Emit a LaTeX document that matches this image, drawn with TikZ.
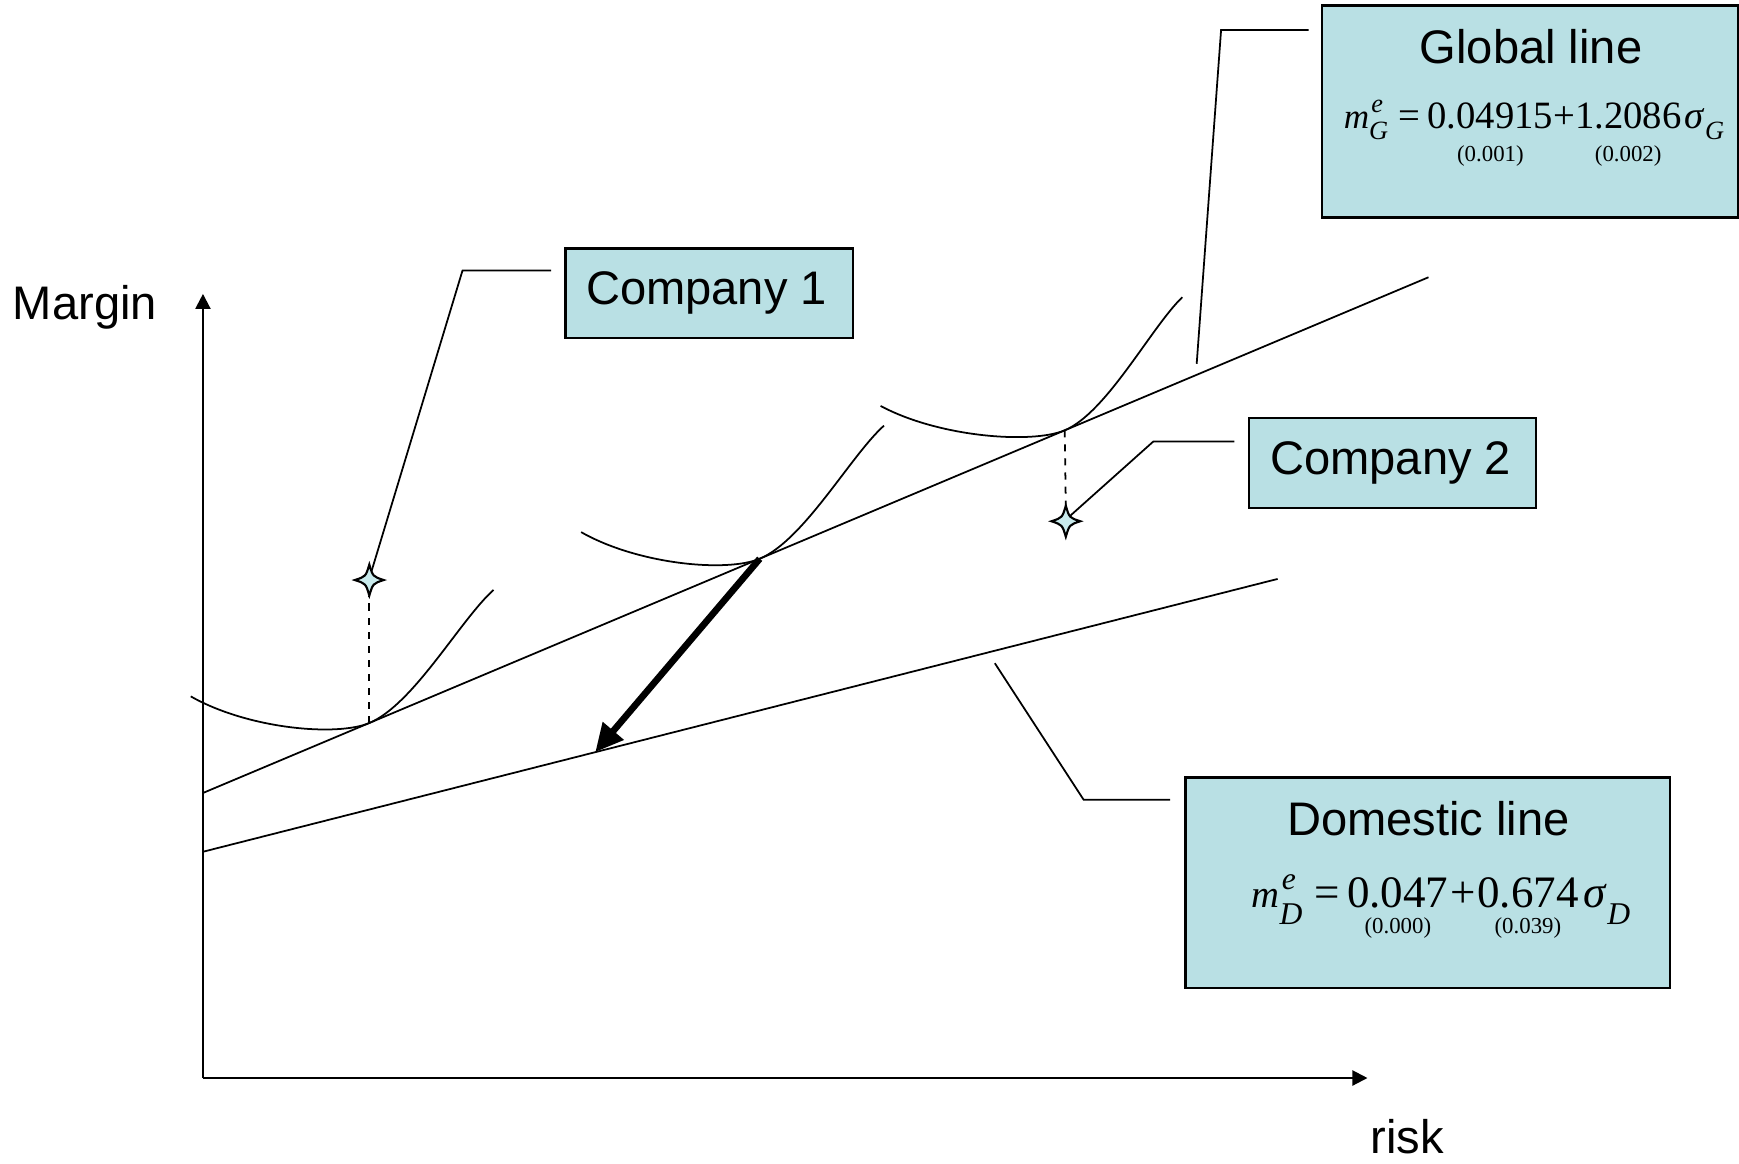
\documentclass[tikz,border=0pt]{standalone}
\usepackage{fontspec}
\setmainfont{Liberation Serif}
\setsansfont{Liberation Sans}
\usetikzlibrary{arrows.meta,calc}
\definecolor{boxfill}{RGB}{185,224,228}
\definecolor{starfill}{RGB}{200,234,236}
% #1 subscript letter, #2 main m size, #3 script size, #4 sup raise, #5 sub drop
\newcommand\mexp[5]{{\fontsize{#2}{#2}\selectfont\textit{m}}\rlap{\kern0.6pt\raisebox{#4}{\fontsize{#3}{#3}\selectfont\textit{e}}}\raisebox{-#5}{\fontsize{#3}{#3}\selectfont\textit{#1}}}
% #1 main number, #2 label under it, #3 baseline distance
\newcommand\ulab[3]{\vtop{\baselineskip=#3\lineskiplimit=-100pt\lineskip=0pt\halign{\hfil##\hfil\cr#1\cr{\fontsize{6.5}{7}\selectfont#2}\cr}}}
\newcommand\sigsub[3]{\textit{σ}\raisebox{-#3}{\fontsize{#2}{#2}\selectfont\textit{#1}}}
\begin{document}
\begin{tikzpicture}[x=0.1109mm,y=-0.1109mm,
  box/.style={draw=black, line width=0.7pt, fill=boxfill, inner sep=0pt},
  lbl/.style={font=\sffamily\fontsize{13.4}{16}\selectfont, inner sep=0pt},
  eq/.style={inner sep=0pt},
  curve/.style={line width=0.5pt},
  callout/.style={line width=0.5pt},
  proj/.style={line width=0.5pt, dash pattern=on 2pt off 2pt},
  axis/.style={line width=0.6pt, -{Triangle[length=1.5mm,width=1.5mm]}},
  shiftarrow/.style={line width=1.9pt, -{Triangle[length=2.8mm,width=2.6mm]}},
  fourstar/.pic={\draw[line width=0.6pt, fill=starfill] (0,-14) .. controls (3.2,-3.2) .. (13,0) .. controls (3.2,3.2) .. (0,14) .. controls (-3.2,3.2) .. (-13,0) .. controls (-3.2,-3.2) .. cycle;},
  icurve/.pic={\draw[curve] (-161,-24) .. controls (-110,5) and (-30,12.6) .. (0,0) .. controls (40,-16.8) and (82,-93) .. (112,-120);},
  icurvewide/.pic={\draw[curve] (-166,-22) .. controls (-114,6) and (-30,12.6) .. (0,0) .. controls (38,-16) and (78,-93) .. (106,-120);}
]
\useasboundingbox (0,0) rectangle (1568,1049);
% axes
\coordinate (O) at (183,972);
\coordinate (ytop) at (183,265);
\coordinate (xend) at (1233,972);
\draw[axis] (O) -- (ytop);
\draw[axis] (O) -- (xend);
\node[lbl, anchor=base west] (margin) at (11,288.5) {Margin};
\node[lbl, anchor=base west] (risk) at (1235,1040) {risk};
% lines
\coordinate (g0) at (183,715);
\coordinate (g1) at (1288,250);
\coordinate (d0) at (183,768);
\coordinate (d1) at (1152,522);
\draw[line width=0.5pt] (g0) -- (g1);
\draw[line width=0.5pt] (d0) -- (d1);
% tangency points
\coordinate (t1) at (333,651.9);
\coordinate (t2) at (685,503.8);
\coordinate (t3) at (960,388);
\pic at (t1) {icurve};
\pic at (t2) {icurve};
\pic at (t3) {icurvewide};
% stars
\coordinate (s1) at (333,523);
\coordinate (s2) at (961,470);
\draw[proj] (t1) -- ($(s1)+(0,14)$);
\draw[proj] (t3) -- ($(s2)+(0,-14)$);
\pic at (s1) {fourstar};
\pic at (s2) {fourstar};
% shift arrow
\coordinate (a1) at ($(d0)!0.365!(d1)$);
\draw[shiftarrow] (t2) -- (a1);
% boxes
\node[box, minimum width=28.72mm, minimum height=8.98mm] (comp1) at (639.5,264.5) {};
\node[lbl, anchor=base] (comp1t) at (637,275) {Company 1};
\node[box, minimum width=28.72mm, minimum height=8.98mm] (comp2) at (1255.5,417.5) {};
\node[lbl, anchor=base] (comp2t) at (1254,428) {Company 2};
\node[box, minimum width=41.59mm, minimum height=21.18mm] (glob) at (1379.5,100.5) {};
\node[lbl, anchor=base] (globt) at (1380.5,57) {Global line};
\node[eq, anchor=base west, font=\fontsize{11}{13}\selectfont] (globeq) at (1211,116)
  {\mexp{G}{10}{7.5}{4.6pt}{3.2pt}\kern3pt=\kern2pt\ulab{0.04915}{(0.001)}{9.4pt}+\ulab{1.2086}{(0.002)}{9.4pt}\kern1pt\sigsub{G}{7.5}{3.2pt}};
\node[box, minimum width=48.46mm, minimum height=21.07mm] (dom) at (1287.5,796) {};
\node[lbl, anchor=base] (domt) at (1288,753) {Domestic line};
\node[eq, anchor=base west, font=\fontsize{12.8}{14}\selectfont] (domeq) at (1128,818)
  {\mexp{D}{11}{9}{5pt}{5pt}\kern3.5pt=\kern2pt\ulab{0.047}{(0.000)}{7.4pt}\kern0.5pt+\kern0.5pt\ulab{0.674}{(0.039)}{7.4pt}\kern1.5pt\sigsub{D}{9}{5pt}};
% callouts
\coordinate (c1a) at (497,244);
\coordinate (c1b) at (417,244);
\coordinate (c1e) at (335,515);
\draw[callout] (c1a) -- (c1b) -- (c1e);
\coordinate (gla) at (1180,27);
\coordinate (glb) at (1101,27);
\coordinate (gle) at (1079,328);
\draw[callout] (gla) -- (glb) -- (gle);
\coordinate (c2a) at (1113,398);
\coordinate (c2b) at (1040,398);
\coordinate (c2e) at (965,465);
\draw[callout] (c2a) -- (c2b) -- (c2e);
\coordinate (dla) at (1055,721);
\coordinate (dlb) at (977,721);
\coordinate (dle) at (897,598);
\draw[callout] (dla) -- (dlb) -- (dle);
\end{tikzpicture}
\end{document}
